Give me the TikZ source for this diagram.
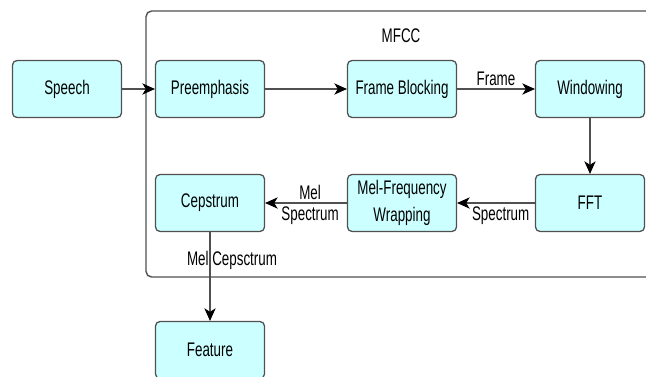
\documentclass[tikz,border=0pt]{standalone}
\usepackage{fontspec}
\setmainfont{Liberation Sans}[FakeStretch=0.68]
\usepackage{tikz}
\usetikzlibrary{arrows.meta, positioning}
\definecolor{boxfill}{HTML}{CCFFFF}
\definecolor{boxline}{HTML}{505050}

\begin{document}
\begin{tikzpicture}[x=0.025cm, y=-0.025cm,
        block/.style={draw=boxline, fill=boxfill, rounded corners=3pt, line width=0.9pt,
            minimum width=2.72cm, minimum height=1.42cm, inner sep=1pt, align=center,
            font=\fontsize{14}{19}\selectfont},
        flow/.style={draw=boxline, line width=0.9pt, -{Stealth[length=9pt, width=8pt, inset=2.5pt, color=black]}},
        lbl/.style={font=\fontsize{14}{16}\selectfont, inner sep=2pt}]
    \clip (0,0) rectangle (646,376);
    \draw[boxline, line width=1pt, rounded corners=4pt] (146,11) rectangle (720,277);
    \node[lbl] (mfcc) at (401,36) {MFCC};

    \node[block] (speech) at (67,89) {Speech};
    \node[block] (pre) at (210,89) {Preemphasis};
    \node[block] (frame) at (402,89) {Frame Blocking};
    \node[block] (win) at (590,89) {Windowing};
    \node[block] (fft) at (590,203) {FFT};
    \node[block] (mel) at (402,203) {Mel-Frequency\\Wrapping};
    \node[block] (cep) at (210,203) {Cepstrum};
    \node[block] (feat) at (210,350) {Feature};

    \draw[flow] (speech) -- (pre);
    \draw[flow] (pre) -- (frame);
    \draw[flow] (frame) -- node[lbl, above] {Frame} (win);
    \draw[flow] (win) -- (fft);
    \draw[flow] (fft) -- node[lbl, below, pos=0.44] {Spectrum} (mel);
    \draw[flow] (mel) -- node[lbl, above, pos=0.45] {Mel} node[lbl, below, pos=0.45] {Spectrum} (cep);
    \draw[flow] (cep) -- node[lbl, pos=0.32, xshift=0.55cm] {Mel Cepsctrum} (feat);
\end{tikzpicture}
\end{document}
